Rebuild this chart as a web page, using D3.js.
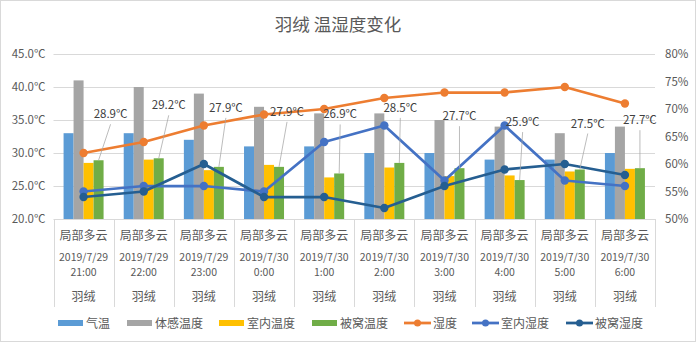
<!DOCTYPE html>
<html><head><meta charset="utf-8">
<script src="https://cdn.jsdelivr.net/npm/d3@7"></script>
<style>body{margin:0;background:#fff;}svg{display:block;font-family:"Noto Sans CJK SC","Noto Sans",sans-serif;}</style>
</head><body><svg id="c" width="696" height="343"></svg>
<script>
const title = "羽绒 温湿度变化";
const weather = ["局部多云","局部多云","局部多云","局部多云","局部多云","局部多云","局部多云","局部多云","局部多云","局部多云"];
const dates = ["2019/7/29","2019/7/29","2019/7/29","2019/7/30","2019/7/30","2019/7/30","2019/7/30","2019/7/30","2019/7/30","2019/7/30"];
const times = ["21:00","22:00","23:00","0:00","1:00","2:00","3:00","4:00","5:00","6:00"];
const clothing = ["羽绒","羽绒","羽绒","羽绒","羽绒","羽绒","羽绒","羽绒","羽绒","羽绒"];
const airTemp = [33,33,32,31,31,30,30,29,29,30];
const feelTemp = [41,40,39,37,36,36,35,34,33,34];
const indoorTemp = [28.5,29.0,27.4,28.2,26.3,27.8,26.5,26.6,27.2,27.6];
const quiltTemp = [28.9,29.2,27.9,27.9,26.9,28.5,27.7,25.9,27.5,27.7];
const humidity = [62,64,67,69,70,72,73,73,74,71];
const indoorHum = [55,56,56,55,64,67,57,67,57,56];
const quiltHum = [54,55,60,54,54,52,56,59,60,58];
const tempTicks = [20,25,30,35,40,45];
const humTicks = [50,55,60,65,70,75,80];

const barSeries = [
  {name:"气温", values:airTemp, color:"#5B9BD5"},
  {name:"体感温度", values:feelTemp, color:"#A5A5A5"},
  {name:"室内温度", values:indoorTemp, color:"#FFC000"},
  {name:"被窝温度", values:quiltTemp, color:"#70AD47"}
];
const lineSeries = [
  {name:"湿度", values:humidity, color:"#ED7D31"},
  {name:"室内湿度", values:indoorHum, color:"#4472C4"},
  {name:"被窝湿度", values:quiltHum, color:"#255E91"}
];
// manual label nudges (px) for the 被窝温度 data labels
const labelNudge = [[12,-46],[10,-53],[7,-59],[8,-55],[1,-59],[1,-55],[0,-52],[3,-58],[8,-46],[0,-48]];

const svg = d3.select("#c");
const L = 53.5, R = 655, T = 54, B = 219;
const text = "#595959", grid = "#D9D9D9";
const idx = d3.range(times.length);
const x = d3.scaleBand().domain(idx).range([L,R]).paddingInner(0).paddingOuter(0);
const xb = d3.scaleBand().domain(d3.range(4)).range([0,40]);
const yT = d3.scaleLinear().domain([20,45]).range([B,T]);
const yH = d3.scaleLinear().domain([50,80]).range([B,T]);

svg.append("rect").attr("x",0.5).attr("y",0.5).attr("width",695).attr("height",341).attr("fill","#fff").attr("stroke","#D9D9D9");

svg.append("text").attr("x",338).attr("y",31).attr("text-anchor","middle").attr("font-size",17.5).attr("fill",text).text(title);

// gridlines
svg.append("g").selectAll("line").data(tempTicks.slice(1)).join("line")
  .attr("x1",L).attr("x2",R).attr("y1",d=>Math.round(yT(d))+0.5).attr("y2",d=>Math.round(yT(d))+0.5)
  .attr("stroke",grid);

// left axis
const gl = svg.append("g").attr("transform",`translate(${L},0)`)
  .call(d3.axisLeft(yT).tickValues(tempTicks).tickSize(0).tickPadding(8).tickFormat(d=>d.toFixed(1)+"℃"));
gl.select(".domain").remove();
gl.selectAll("text").attr("fill",text).attr("font-size",11.5).attr("font-family","Noto Sans CJK SC");
// right axis
const gr = svg.append("g").attr("transform",`translate(${R},0)`)
  .call(d3.axisRight(yH).tickValues(humTicks).tickSize(0).tickPadding(10).tickFormat(d=>d+"%"));
gr.select(".domain").remove();
gr.selectAll("text").attr("fill",text).attr("font-size",11.5).attr("font-family","Noto Sans CJK SC");

// bars
const bx = i => x(i) + (x.bandwidth()-40)/2;
barSeries.forEach((s,si)=>{
  svg.append("g").selectAll("rect").data(s.values).join("rect")
    .attr("x",(d,i)=>bx(i)+xb(si)).attr("width",xb.bandwidth())
    .attr("y",d=>yT(d)).attr("height",d=>B-yT(d)).attr("fill",s.color);
});

// category axis
svg.append("line").attr("x1",L).attr("x2",R).attr("y1",B+0.5).attr("y2",B+0.5).attr("stroke",grid);
const bounds = idx.map(i=>x(i)).concat([R]);
svg.append("g").selectAll("line").data(bounds).join("line")
  .attr("x1",d=>Math.round(d)+0.5).attr("x2",d=>Math.round(d)+0.5).attr("y1",B).attr("y2",307).attr("stroke",grid);
const cat = svg.append("g").attr("fill",text).attr("text-anchor","middle");
idx.forEach(i=>{
  const cx = x(i)+x.bandwidth()/2;
  cat.append("text").attr("x",cx).attr("y",240).attr("font-size",12).text(weather[i]);
  cat.append("text").attr("x",cx).attr("y",260.5).attr("font-size",10.5).text(dates[i]);
  cat.append("text").attr("x",cx).attr("y",276).attr("font-size",10.5).text(times[i]);
  cat.append("text").attr("x",cx).attr("y",301).attr("font-size",12).text(clothing[i]);
});

// lines
const lineGen = d3.line().x((d,i)=>x(i)+x.bandwidth()/2).y(d=>yH(d));
lineSeries.forEach(s=>{
  const g = svg.append("g");
  g.append("path").attr("d",lineGen(s.values)).attr("fill","none").attr("stroke",s.color).attr("stroke-width",2.75).attr("stroke-linejoin","round");
  g.selectAll("circle").data(s.values).join("circle")
    .attr("cx",(d,i)=>x(i)+x.bandwidth()/2).attr("cy",d=>yH(d)).attr("r",4.2).attr("fill",s.color);
});

// data labels for 被窝温度
const lab = svg.append("g");
quiltTemp.forEach((v,i)=>{
  const gx = bx(i)+xb(3)+xb.bandwidth()/2, gy = yT(v);
  const lx = gx+labelNudge[i][0], ly = gy+labelNudge[i][1];
  lab.append("line").attr("x1",lx).attr("y1",ly+10).attr("x2",gx).attr("y2",gy).attr("stroke","#A6A6A6").attr("stroke-width",0.75);
  lab.append("text").attr("x",lx).attr("y",ly+4).attr("text-anchor","middle").attr("font-size",11.5).attr("fill","#404040").text(v.toFixed(1)+"℃");
});

// legend
const leg = svg.append("g").attr("font-size",12).attr("fill",text);
const legBar = [58,127,219,312];
barSeries.forEach((s,i)=>{
  leg.append("rect").attr("x",legBar[i]).attr("y",320).attr("width",25).attr("height",6).attr("fill",s.color);
  leg.append("text").attr("x",legBar[i]+28).attr("y",327.5).text(s.name);
});
const legLine = [404,472,566];
lineSeries.forEach((s,i)=>{
  leg.append("line").attr("x1",legLine[i]).attr("x2",legLine[i]+27).attr("y1",323).attr("y2",323).attr("stroke",s.color).attr("stroke-width",2.75);
  leg.append("circle").attr("cx",legLine[i]+13.5).attr("cy",323).attr("r",3.5).attr("fill",s.color);
  leg.append("text").attr("x",legLine[i]+29).attr("y",327.5).text(s.name);
});
</script></body></html>
